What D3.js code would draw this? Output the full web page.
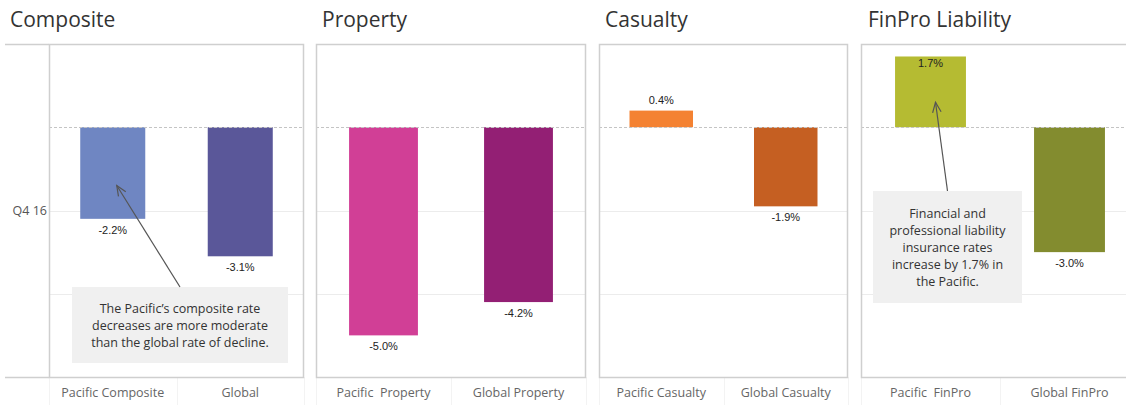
<!DOCTYPE html>
<html>
<head>
<meta charset="utf-8">
<script src="https://cdn.jsdelivr.net/npm/d3@7"></script>
<style>
  body { margin: 0; background: #fff; }
  svg { display: block; }
  .title { font-family: "Open Sans", sans-serif; font-size: 21px; fill: #333; }
  .cat { font-family: "Open Sans", sans-serif; font-size: 12.5px; fill: #666; white-space: pre; }
  .val { font-family: "Liberation Sans", Arial, sans-serif; font-size: 11px; fill: #222; }
  .note { font-family: "Open Sans", sans-serif; font-size: 12.5px; fill: #333; }
</style>
</head>
<body>
<svg id="chart" width="1126" height="405"></svg>
<script>
// data
const panelTitles = ["Composite", "Property", "Casualty", "FinPro Liability"];
const pacificLabels = ["Pacific Composite", "Pacific  Property", "Pacific Casualty", "Pacific  FinPro"];
const globalLabels = ["Global", "Global Property", "Global Casualty", "Global FinPro"];
const pacificValues = [-2.2, -5.0, 0.4, 1.7];
const globalValues = [-3.1, -4.2, -1.9, -3.0];
const pacificColors = ["#6f86c2", "#d13f96", "#f48232", "#b5bb32"];
const globalColors = ["#5a5799", "#931f74", "#c55f22", "#838c2f"];
const rowLabel = "Q4 16";

// annotations: panel index, which bar, value the arrow points to, text lines
const notes = [
  { panel: 0, bar: 0, at: -1.4, lines: ["The Pacific\u2019s composite rate", "decreases are more moderate", "than the global rate of decline."] },
  { panel: 3, bar: 0, at: 0.6, lines: ["Financial and", "professional liability", "insurance rates", "increase by 1.7% in", "the Pacific."] }
];

// layout
const plotTop = 44, plotBottom = 377,
  panelLeft = [49, 316, 599, 861],
  panelRight = [304, 586, 848, 1139],
  titleX = [10, 322, 605, 868],
  barShare = 0.51,
  frameColor = "#cfcfcf";
// box layout for each note: [x offset from panel left, y top, width, height]
const noteBoxes = [[23, 287, 216, 76], [12, 191, 149, 112]];

const svg = d3.select("#chart");
const y = d3.scaleLinear().domain([-6, 2]).range([plotBottom, plotTop]);
const fmt = v => v.toFixed(1) + "%";

// row header area for first panel
svg.append("line").attr("x1", 5).attr("x2", panelLeft[0]).attr("y1", plotTop + 0.5).attr("y2", plotTop + 0.5)
  .attr("stroke", frameColor).attr("stroke-width", 1.5);
svg.append("line").attr("x1", 5).attr("x2", panelLeft[0]).attr("y1", plotBottom + 0.5).attr("y2", plotBottom + 0.5)
  .attr("stroke", frameColor).attr("stroke-width", 1.5);
svg.append("text").attr("class", "cat").attr("x", panelLeft[0] - 2).attr("y", (plotTop + plotBottom) / 2 + 4)
  .attr("text-anchor", "end").style("fill", "#555").text(rowLabel);

panelTitles.forEach((title, i) => {
  const cats = [pacificLabels[i], globalLabels[i]];
  const vals = [pacificValues[i], globalValues[i]];
  const cols = [pacificColors[i], globalColors[i]];
  const x = d3.scaleBand().domain(cats).range([panelLeft[i], panelRight[i]]);
  const bw = x.bandwidth() * barShare;
  const g = svg.append("g");

  g.append("text").attr("class", "title").attr("x", titleX[i]).attr("y", 27).text(title);

  // grid lines
  y.ticks(4).filter(t => t > -6 && t < 2 && t !== 0).forEach(t => {
    g.append("line").attr("x1", panelLeft[i]).attr("x2", panelRight[i])
      .attr("y1", Math.round(y(t)) + 0.5).attr("y2", Math.round(y(t)) + 0.5)
      .attr("stroke", "#ececec");
  });

  // column header dividers
  [panelLeft[i], panelLeft[i] + x.step(), panelRight[i]].forEach(px => {
    g.append("line").attr("x1", Math.round(px) + 0.5).attr("x2", Math.round(px) + 0.5)
      .attr("y1", plotBottom).attr("y2", 405).attr("stroke", "#f3f3f3");
  });

  // bars
  cats.forEach((c, j) => {
    const v = vals[j];
    g.append("rect")
      .attr("x", x(c) + (x.bandwidth() - bw) / 2)
      .attr("width", bw)
      .attr("y", y(Math.max(0, v)))
      .attr("height", Math.abs(y(v) - y(0)))
      .attr("fill", cols[j]);
  });

  // zero line
  g.append("line").attr("x1", panelLeft[i]).attr("x2", panelRight[i])
    .attr("y1", Math.round(y(0)) + 0.5).attr("y2", Math.round(y(0)) + 0.5)
    .attr("stroke", "#c4c4c4").attr("stroke-dasharray", "3,2");

  // frame
  g.append("rect").attr("x", panelLeft[i] + 0.5).attr("y", plotTop + 0.5)
    .attr("width", panelRight[i] - panelLeft[i] - 1).attr("height", plotBottom - plotTop)
    .attr("fill", "none").attr("stroke", frameColor).attr("stroke-width", 1.5);

  // value labels
  cats.forEach((c, j) => {
    const v = vals[j];
    const cx = x(c) + x.bandwidth() / 2;
    let ly;
    if (v < 0) ly = y(v) + 15;
    else ly = (y(v) - 7 - 10 < plotTop) ? y(v) + 11 : y(v) - 7;
    g.append("text").attr("class", "val").attr("x", cx).attr("y", ly)
      .attr("text-anchor", "middle").text(fmt(v));
  });

  // category labels
  cats.forEach(c => {
    g.append("text").attr("class", "cat").attr("x", x(c) + x.bandwidth() / 2).attr("y", 397)
      .attr("text-anchor", "middle").text(c);
  });
});

// annotations
notes.forEach((n, k) => {
  const i = n.panel;
  const cats = [pacificLabels[i], globalLabels[i]];
  const x = d3.scaleBand().domain(cats).range([panelLeft[i], panelRight[i]]);
  const [ox, by, bw, bh] = noteBoxes[k];
  const bx = panelLeft[i] + ox;
  const g = svg.append("g");
  g.append("rect").attr("x", bx).attr("y", by).attr("width", bw).attr("height", bh).attr("fill", "#f0f0f0");
  const lh = 17;
  const startY = by + bh / 2 - (n.lines.length - 1) * lh / 2 + 4.5;
  n.lines.forEach((l, li) => {
    g.append("text").attr("class", "note").attr("x", bx + bw / 2).attr("y", startY + li * lh)
      .attr("text-anchor", "middle").text(l);
  });
  // arrow
  const tx = x(cats[n.bar]) + x.bandwidth() / 2 + (k === 0 ? 4 : 5);
  const ty = y(n.at);
  const sx = bx + bw / 2, sy = by;
  const ang = Math.atan2(ty - sy, tx - sx);
  const hl = 11, ha = 0.4;
  g.append("line").attr("x1", sx).attr("y1", sy).attr("x2", tx).attr("y2", ty)
    .attr("stroke", "#555").attr("stroke-width", 1.2);
  g.append("path")
    .attr("d", `M${tx - hl * Math.cos(ang - ha)},${ty - hl * Math.sin(ang - ha)} L${tx},${ty} L${tx - hl * Math.cos(ang + ha)},${ty - hl * Math.sin(ang + ha)}`)
    .attr("fill", "none").attr("stroke", "#555").attr("stroke-width", 1.2);
});
</script>
</body>
</html>
